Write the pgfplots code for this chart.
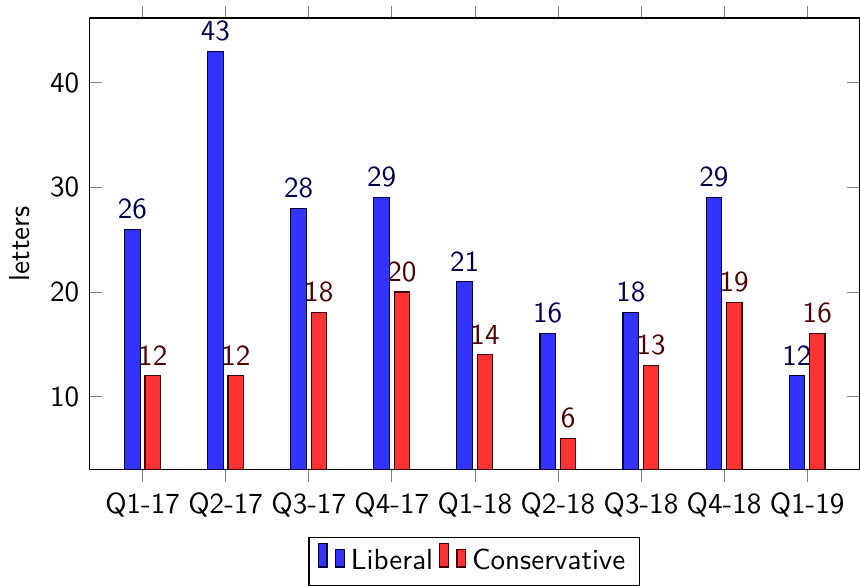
\documentclass[border={0pt 0pt 0pt 1.8pt}]{standalone}
\usepackage{fontspec}
\usepackage{pgfplots}
\pgfplotsset{compat=1.18}
\renewcommand{\familydefault}{\sfdefault}
\begin{document}
\begin{tikzpicture}
\begin{axis}[
  scale only axis,
  width=265pt, height=155.5pt,
  ybar=1.65pt, bar width=5.35pt,
  xmin=-0.64, xmax=8.63, ymin=3, ymax=46.2,
  xtick={0,1,2,3,4,5,6,7,8},
  xticklabels={Q1-17,Q2-17,Q3-17,Q4-17,Q1-18,Q2-18,Q3-18,Q4-18,Q1-19},
  ytick={10,20,30,40},
  xtick align=outside,
  ylabel={letters},
  /pgf/number format/assume math mode=true,
  nodes near coords,
  legend style={at={(0.5,-0.148)}, anchor=north, legend columns=-1},
]
\addplot[fill=blue!80, draw=blue!25!black, nodes near coords style={text=blue!30!black}] coordinates {
(0,26) (1,43) (2,28) (3,29) (4,21) (5,16) (6,18) (7,29) (8,12)};
\addplot[fill=red!80, draw=red!25!black, nodes near coords style={text=red!30!black}] coordinates {
(0,12) (1,12) (2,18) (3,20) (4,14) (5,6) (6,13) (7,19) (8,16)};
\legend{Liberal,Conservative}
\end{axis}
\end{tikzpicture}
\end{document}
